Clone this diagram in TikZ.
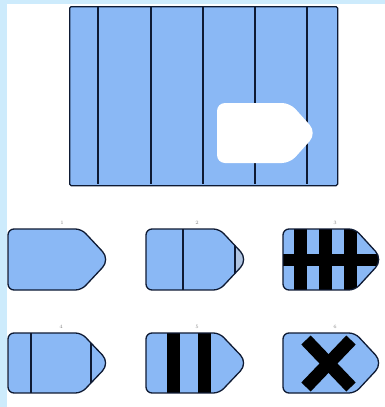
\documentclass[tikz,border=0pt]{standalone}
\usepackage{tikz}
\definecolor{tagblue}{HTML}{8AB8F5}
\definecolor{tagpale}{HTML}{AFC4E2}
\definecolor{edgeblue}{HTML}{CDEBFC}
\definecolor{navy}{HTML}{0E1A33}
\definecolor{labgray}{HTML}{8A8A8A}
% tag outline: left, top, width, height
\newcommand{\tagshape}[4]{[rounded corners=6pt] (#1,#2) -- ++(0.72*#3,0) [rounded corners=11pt] -- ++(0.28*#3,0.5*#4) [rounded corners=6pt] -- ++(-0.28*#3,0.5*#4) -- ++(-0.72*#3,0) -- cycle}
\tikzset{
  tagline/.style={draw=navy,line width=1.3pt},
  thinbar/.style={draw=navy,line width=1.6pt},
  thickbar/.style={draw=black,line width=12pt},
  numlab/.style={text=labgray,font=\fontsize{5}{6}\selectfont,inner sep=0pt}
}
\begin{document}
\begin{tikzpicture}[x=1pt,y=-1pt]
\useasboundingbox (0,0) rectangle (385,407);
\fill[white] (0,0) rectangle (385,407);
\fill[edgeblue] (0,0) rectangle (7,407);
\fill[edgeblue] (0,0) rectangle (385,4);
% main grid
\node[draw=navy,line width=1.3pt,fill=tagblue,rounded corners=1.5pt,minimum width=268pt,minimum height=179pt,inner sep=0pt,anchor=north west] (main) at (69,6) {};
\foreach \xx in {98,151,203,255,307}{
  \draw[thinbar,line width=2.4pt] (\xx,6.6) -- (\xx,184.4);
}
\fill[white] [rounded corners=8pt] (217,103) -- ++(73,0) [rounded corners=11pt] -- ++(27,30) [rounded corners=8pt] -- ++(-27,30) -- ++(-73,0) -- cycle;
% option 1
\node[numlab] (l1) at (62,223) {1};
\draw[tagline,fill=tagblue] \tagshape{8}{229}{102}{61};
% option 2
\node[numlab] (l2) at (197,223) {2};
\begin{scope}
  \clip \tagshape{146}{229}{102}{61};
  \fill[tagblue] (146,229) rectangle (248,290);
  \fill[tagpale] (235,229) rectangle (248,290);
  \draw[thinbar] (183,229) -- (183,290);
  \draw[thinbar] (235,229) -- (235,290);
\end{scope}
\draw[tagline] \tagshape{146}{229}{102}{61};
% option 3
\node[numlab] (l3) at (335,223) {3};
\begin{scope}
  \clip \tagshape{283}{229}{100}{61};
  \fill[tagblue] (283,229) rectangle (383,290);
  \draw[thickbar,line width=13pt] (300,229) -- (300,290);
  \draw[thickbar,line width=13pt] (325,229) -- (325,290);
  \draw[thickbar,line width=13pt] (350,229) -- (350,290);
  \draw[thickbar] (283,260) -- (383,260);
\end{scope}
\draw[tagline] \tagshape{283}{229}{100}{61};
% option 4
\node[numlab] (l4) at (61,327) {4};
\begin{scope}
  \clip \tagshape{8}{333}{102}{60};
  \fill[tagblue] (8,333) rectangle (110,393);
  \draw[thinbar] (31,333) -- (31,393);
  \draw[thinbar] (91,333) -- (91,393);
\end{scope}
\draw[tagline] \tagshape{8}{333}{102}{60};
% option 5
\node[numlab] (l5) at (197,327) {5};
\begin{scope}
  \clip \tagshape{146}{333}{102}{60};
  \fill[tagblue] (146,333) rectangle (248,393);
  \draw[thickbar,line width=13pt] (173,333) -- (173,393);
  \draw[thickbar,line width=13pt] (204,333) -- (204,393);
\end{scope}
\draw[tagline] \tagshape{146}{333}{102}{60};
% option 6
\node[numlab] (l6) at (335,327) {6};
\draw[tagline,fill=tagblue] \tagshape{283}{333}{100}{60};
\draw[thickbar,line width=13pt] (306,340) -- (351,387);
\draw[thickbar,line width=13pt] (351,340) -- (306,387);
\end{tikzpicture}
\end{document}
